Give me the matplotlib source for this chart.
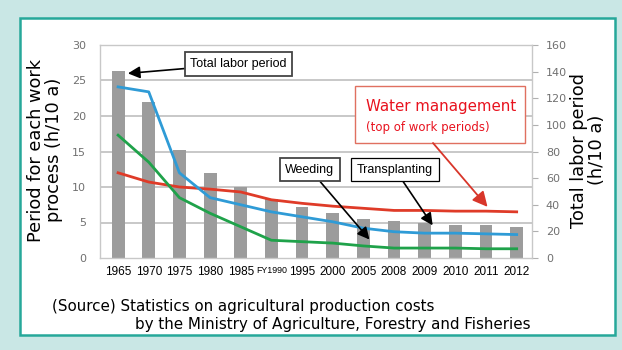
import matplotlib
matplotlib.use("Agg")
import matplotlib.pyplot as plt
from matplotlib.patches import Rectangle

# ---- data -------------------------------------------------------------
years = ["1965", "1970", "1975", "1980", "1985", "FY1990", "1995", "2000",
         "2005", "2008", "2009", "2010", "2011", "2012"]
total_labor = [140.5, 117.5, 81.5, 64.0, 53.5, 44.0, 38.5, 33.5,
               29.5, 27.5, 26.5, 25.0, 25.0, 23.5]          # right axis
water_mgmt = [12.0, 10.7, 10.0, 9.7, 9.3, 8.2, 7.7, 7.3,
              7.0, 6.7, 6.7, 6.6, 6.6, 6.5]
transplanting = [24.1, 23.4, 12.0, 8.5, 7.5, 6.5, 5.8, 5.1,
                 4.2, 3.7, 3.5, 3.5, 3.4, 3.3]
weeding = [17.3, 13.5, 8.5, 6.3, 4.4, 2.5, 2.3, 2.1,
           1.7, 1.4, 1.4, 1.4, 1.3, 1.3]
left_ticks = [0, 5, 10, 15, 20, 25, 30]
right_ticks = [0, 20, 40, 60, 80, 100, 120, 140, 160]

W, H = 622, 350
fig = plt.figure(figsize=(W / 100, H / 100), dpi=100)
fig.patch.set_facecolor("#c9e7e5")

# white panel with teal border
fig.patches.append(Rectangle((20 / W, (H - 335) / H), 595 / W, 317 / H,
                             transform=fig.transFigure, facecolor="white",
                             edgecolor="#26a89a", linewidth=1.8, zorder=-5))

ax = fig.add_axes([100 / W, (H - 258) / H, 432 / W, 213 / H])
ax.set_facecolor("none")
ax.set_zorder(1)
x = list(range(len(years)))

# lines axis (left scale) sits above the bar axis (right scale)
axl = ax.twinx()
axl.set_zorder(2)
axl.patch.set_visible(False)

# bars: total labor period on right-hand scale
ax.bar(x, total_labor, width=0.42, color="#9c9c9c", zorder=2)
ax.set_ylim(0, 160)
ax.set_xlim(-0.59, 13.5)
ax.set_yticks(right_ticks)
ax.tick_params(axis="y", which="both", direction="out", length=4,
               color="#b0b0b0", labelsize=8, labelcolor="#707070", pad=6,
               left=False, labelleft=False, right=True, labelright=True)
ax.set_xticks(x)
ax.set_xticklabels(years, family=["Liberation Sans", "DejaVu Sans"],
                   fontsize=8.5)
for lbl in ax.get_xticklabels():
    if lbl.get_text().startswith("FY"):
        lbl.set_fontsize(6.4)
ax.tick_params(axis="x", length=0, pad=6)
for s in ax.spines.values():
    s.set_color("#c8c8c8")
    s.set_linewidth(1.0)

# lines: work periods on left-hand scale
axl.set_ylim(0, 30)
axl.set_yticks(left_ticks)
axl.tick_params(axis="y", length=0, labelsize=8, labelcolor="#707070", pad=10,
                left=True, labelleft=True, right=False, labelright=False)
for s in axl.spines.values():
    s.set_visible(False)
for t in left_ticks[1:]:
    ax.axhline(t * 160 / 30, color="#c8c8c8", linewidth=1.4, zorder=1)

axl.plot(x, water_mgmt, color="#df3b28", linewidth=2.0, zorder=3)
axl.plot(x, transplanting, color="#2f9bd6", linewidth=2.0, zorder=3)
axl.plot(x, weeding, color="#1fa24a", linewidth=2.0, zorder=3)

# axis titles
fig.text(45 / W, 1 - 150 / H, "Period for each work\nprocess (h/10 a)",
         rotation=90, ha="center", va="center", fontsize=12.8,
         linespacing=1.0)
fig.text(588 / W, 1 - 150 / H, "Total labor period\n(h/10 a)",
         rotation=90, ha="center", va="center", fontsize=12.8,
         linespacing=1.0)

# callouts
black_arrow = dict(arrowstyle="-|>,head_length=0.8,head_width=0.4",
                   color="black", linewidth=1.2, shrinkA=0, shrinkB=0)
box = dict(boxstyle="square,pad=0.45", facecolor="white",
           edgecolor="#444444", linewidth=1.3)
lab_font = dict(family=["Liberation Sans", "DejaVu Sans"], fontsize=9)

axl.annotate("Total labor period", xy=(0.32, 26.0),
             xytext=(0.3206, 0.911), textcoords="axes fraction",
             ha="center", va="center", bbox=box, arrowprops=black_arrow,
             **lab_font)
axl.annotate("Weeding", xy=(8.2, 2.6),
             xytext=(0.486, 0.415), textcoords="axes fraction",
             ha="center", va="center", bbox=box, arrowprops=black_arrow,
             **lab_font)
axl.annotate("Transplanting", xy=(10.26, 4.6),
             xytext=(0.683, 0.415), textcoords="axes fraction",
             ha="center", va="center",
             bbox=dict(boxstyle="square,pad=0.45", facecolor="white",
                       edgecolor="black", linewidth=0.9),
             arrowprops=black_arrow, **lab_font)

# water management callout: box, two text lines, red arrow
bx0, by0, bw, bh = (355 - 100) / 432, (258 - 143) / 213, 170 / 432, 57 / 213
axl.add_patch(Rectangle((bx0, by0), bw, bh, transform=axl.transAxes,
                        facecolor="white", edgecolor="#e07060",
                        linewidth=1.0, zorder=4))
red_arrow = dict(arrowstyle="-|>,head_length=0.9,head_width=0.45",
                 color="#d8362a", linewidth=1.3, shrinkA=0, shrinkB=0)
axl.annotate("", xy=(12.05, 7.2),
             xytext=((433 - 100) / 432, by0), textcoords="axes fraction",
             arrowprops=red_arrow, zorder=4)
axl.text((366 - 100) / 432, (258 - 107) / 213, "Water management",
         transform=axl.transAxes, ha="left", va="center",
         color="#e8121e", fontsize=10.8, zorder=5)
axl.text((366 - 100) / 432, (258 - 127) / 213, "(top of work periods)",
         transform=axl.transAxes, ha="left", va="center",
         color="#e8121e", fontsize=8.5, zorder=5)

# source note
fig.text(52 / W, 1 - 306 / H,
         "(Source) Statistics on agricultural production costs",
         ha="left", va="center", fontsize=10.9)
fig.text(135 / W, 1 - 324 / H,
         "by the Ministry of Agriculture, Forestry and Fisheries",
         ha="left", va="center", fontsize=10.9)

fig.savefig("out.png", dpi=100, facecolor=fig.get_facecolor())
